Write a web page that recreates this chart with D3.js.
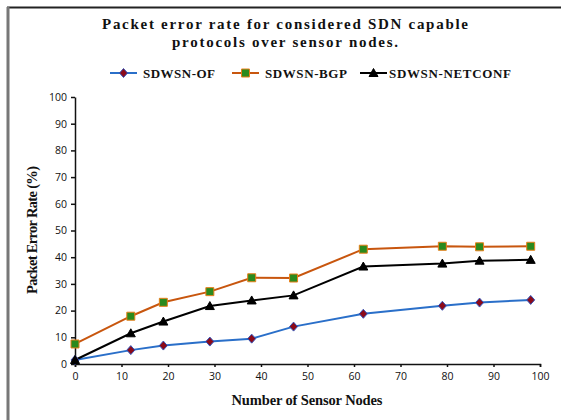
<!DOCTYPE html>
<html><head><meta charset="utf-8">
<script src="https://cdn.jsdelivr.net/npm/d3@7"></script>
<style>body{margin:0;background:#fff}svg{display:block}</style>
</head><body><svg id="c" width="561" height="420"></svg>
<script>
const nodes = [0, 12, 19, 29, 38, 47, 62, 79, 87, 98];
const sdwsnOF = [1.5, 5.2, 6.9, 8.4, 9.5, 14.0, 18.8, 21.8, 23.0, 24.0];
const sdwsnBGP = [7.5, 17.9, 23.1, 27.1, 32.3, 32.2, 43.0, 44.1, 43.9, 44.1];
const sdwsnNETCONF = [1.5, 11.5, 15.9, 21.7, 23.8, 25.7, 36.5, 37.6, 38.7, 39.0];
const seriesNames = ["SDWSN-OF", "SDWSN-BGP", "SDWSN-NETCONF"];
const xTicks = [0,10,20,30,40,50,60,70,80,90,100];
const yTicks = [0,10,20,30,40,50,60,70,80,90,100];

const svg = d3.select("#c");
const serif = "'Liberation Serif','Times New Roman',serif";
const sans = "'Open Sans','Liberation Sans',Arial,sans-serif";

// frame
svg.append("line").attr("x1",7).attr("x2",561).attr("y1",7.5).attr("y2",7.5).attr("stroke","#222").attr("stroke-width",2);
svg.append("line").attr("x1",8).attr("x2",8).attr("y1",7).attr("y2",420).attr("stroke","#777").attr("stroke-width",3);

const x = d3.scaleLinear().domain([0,100]).range([75,540]);
const y = d3.scaleLinear().domain([0,100]).range([364,97]);

const xAxis = svg.append("g").attr("transform","translate(0,364)")
  .call(d3.axisBottom(x).tickValues(xTicks).tickSize(3).tickPadding(6).tickSizeOuter(3));
const yAxis = svg.append("g").attr("transform","translate(75,0)")
  .call(d3.axisLeft(y).tickValues(yTicks).tickSize(4).tickPadding(4).tickSizeOuter(0));
[xAxis,yAxis].forEach(a=>{
  a.selectAll("path,line").attr("stroke","#111").attr("stroke-width",1.5);
  a.selectAll("text").attr("font-family",sans).attr("font-size",10.5).attr("fill","#111");
});

const styles = [
  {line:"#2a6fc9", marker:"diamond", fill:"#8b0a1a", stroke:"#3355bb", data:sdwsnOF},
  {line:"#c8560e", marker:"square", fill:"#2a8a1e", stroke:"#e8801a", data:sdwsnBGP},
  {line:"#000", marker:"triangle", fill:"#000", stroke:"#000", data:sdwsnNETCONF}
];
function markerPath(kind, cx, cy){
  if(kind==="diamond") return `M${cx},${cy-4.5}L${cx+4},${cy}L${cx},${cy+4.5}L${cx-4},${cy}Z`;
  if(kind==="square") return `M${cx-4},${cy-4}h8v8h-8Z`;
  return `M${cx},${cy-4.5}L${cx+4.5},${cy+3.5}L${cx-4.5},${cy+3.5}Z`;
}
const line = d3.line().x((d,i)=>x(nodes[i])).y(d=>y(d));
styles.forEach(s=>{
  svg.append("path").datum(s.data).attr("d",line).attr("fill","none")
    .attr("stroke",s.line).attr("stroke-width",2);
});
styles.forEach(s=>{
  svg.append("g").selectAll("path").data(s.data).join("path")
    .attr("d",(d,i)=>markerPath(s.marker,x(nodes[i]),y(d)))
    .attr("fill",s.fill).attr("stroke",s.stroke).attr("stroke-width",1);
});

// title
svg.append("text").attr("x",285).attr("y",29).attr("text-anchor","middle")
  .attr("font-family",serif).attr("font-weight","bold").attr("font-size",15).attr("fill","#111")
  .attr("textLength",366).attr("lengthAdjust","spacing").text("Packet error rate for considered SDN capable");
svg.append("text").attr("x",285).attr("y",47).attr("text-anchor","middle")
  .attr("font-family",serif).attr("font-weight","bold").attr("font-size",15).attr("fill","#111")
  .attr("textLength",226).attr("lengthAdjust","spacing").text("protocols over sensor nodes.");

// legend
const legX = [110, 232, 360];
const legTextLen = [72, 82, 122];
styles.forEach((s,i)=>{
  const g = svg.append("g");
  g.append("line").attr("x1",legX[i]).attr("x2",legX[i]+27).attr("y1",73).attr("y2",73)
    .attr("stroke",s.line).attr("stroke-width",2);
  g.append("path").attr("d",markerPath(s.marker,legX[i]+13.5,73)).attr("fill",s.fill).attr("stroke",s.stroke);
  g.append("text").attr("x",legX[i]+(i===2?29:33)).attr("y",77.5).attr("font-family",serif)
    .attr("font-weight","bold").attr("font-size",13).attr("fill","#111")
    .attr("textLength",legTextLen[i]).attr("lengthAdjust","spacing").text(seriesNames[i]);
});

// axis titles
svg.append("text").attr("x",307).attr("y",405).attr("text-anchor","middle")
  .attr("font-family",serif).attr("font-weight","bold").attr("font-size",14.5).attr("fill","#111")
  .attr("textLength",151).attr("lengthAdjust","spacing")
  .text("Number of Sensor Nodes");
svg.append("text").attr("transform","translate(37,230) rotate(-90)").attr("text-anchor","middle")
  .attr("font-family",serif).attr("font-weight","bold").attr("font-size",14.5).attr("fill","#111")
  .attr("textLength",128).attr("lengthAdjust","spacing")
  .text("Packet Error Rate (%)");
</script></body></html>
